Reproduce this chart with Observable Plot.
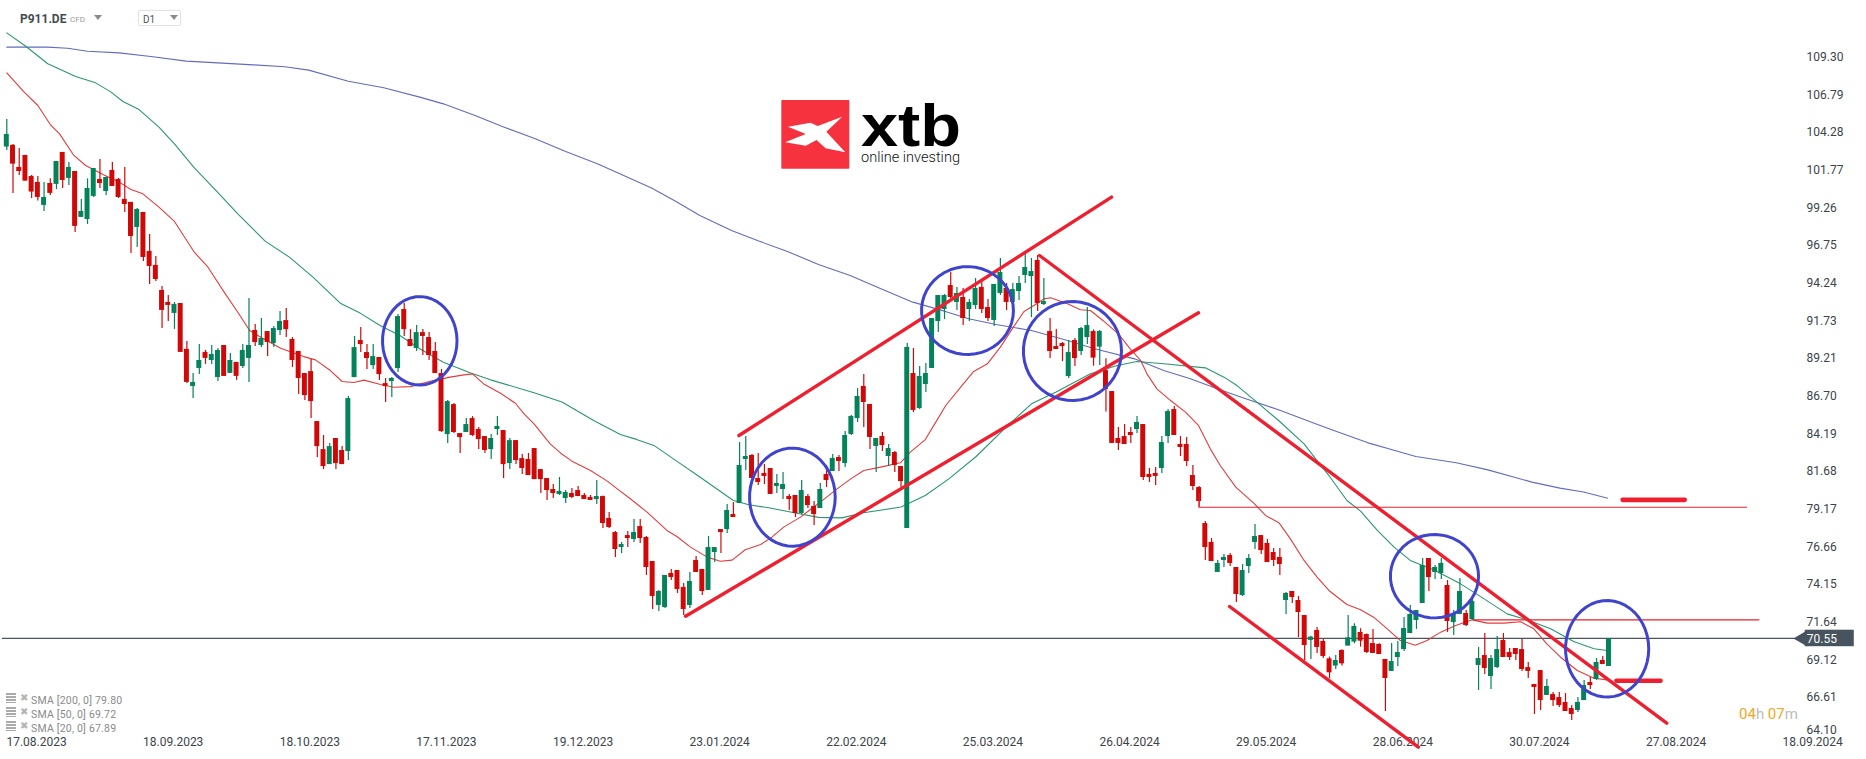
<!DOCTYPE html>
<html>
<head>
<meta charset="utf-8">
<script src="https://cdn.jsdelivr.net/npm/d3@7"></script>
<script src="https://cdn.jsdelivr.net/npm/@observablehq/plot@0.6"></script>
<style>
html,body{margin:0;padding:0;background:#fff;}
#wrap{position:relative;width:1866px;height:759px;overflow:hidden;font-family:Roboto,sans-serif;background:#fff;}
#wrap svg{display:block;}
.ov{position:absolute;white-space:nowrap;}
.ic{position:absolute;left:6px;width:10px;height:10px;background:repeating-linear-gradient(#aaa 0 2px,#fff 2px 3px);}
.xx{position:absolute;left:20px;font-size:10px;color:#b4b4b4;font-family:"DejaVu Sans";font-weight:bold;line-height:12px;}
.tri{position:absolute;width:0;height:0;border-left:4px solid transparent;border-right:4px solid transparent;border-top:5px solid #8a8a8a;}
</style>
</head>
<body>
<div id="wrap"></div>
<script>
const direction = "GRRRRRGRGR"+"GRGGGRGRRR"+"RGRRRRRGRR"+"GGRGGRGRGG"+"RGRGGRRRRR"+"RRGRRGGRRG"+"RRGGRRGRRR"+"RGRRGRRRGG"+"RGRRRRRRRG"+"GRRRRGRRRG"+
"RGRRRGGRRR"+"GRRGGRGRGG"+"RRRRGGRRGR"+"RGRGRGGGRR"+"GRGRRGRGGG"+"GGRGRGGRRG"+"GRGGGGRGRR"+"RGRGGRGRRR"+"RRGRRRGGRR"+"RRRRRGGRRG"+
"GGRRRRGRRR"+"GRRRGRGGRR"+"RRRGGGGGGR"+"GGRGGRGGRG"+"GRRRRRRRGR"+"RRRGGRGRG";
const high = [105.15,103.48,103.22,102.75,101.42,101.35,100.95,101.19,102.35,102.95,
102.28,101.68,99.82,101.19,101.88,102.48,101.31,102.28,101.22,101.95,
99.62,99.22,98.95,97.48,96.02,94.02,93.42,92.95,92.88,90.35,
88.22,90.15,89.75,90.08,89.88,90.08,89.55,88.95,90.15,93.22,
91.48,91.88,91.01,91.34,92.34,92.54,90.61,89.68,88.21,89.14,
85.01,84.08,83.54,83.88,83.34,86.68,90.68,91.28,90.14,90.14,
89.28,87.88,87.94,92.14,92.88,91.14,91.41,91.14,90.94,90.28,
88.48,86.41,86.21,84.21,85.21,85.34,84.61,84.01,84.14,85.34,
84.41,83.88,83.74,82.81,82.88,83.21,81.81,81.21,80.81,81.28,
80.41,80.55,80.68,80.21,80.08,81.08,80.05,78.95,77.68,76.95,
77.68,78.48,78.48,77.35,75.68,73.75,74.75,75.15,75.08,74.21,
74.95,76.01,75.15,77.35,76.61,77.81,79.48,79.61,83.61,84.01,
82.81,82.88,82.15,81.88,81.48,81.61,80.15,80.08,81.08,80.15,
79.68,80.88,82.08,82.81,82.75,84.35,85.41,87.21,88.15,86.15,
83.88,84.28,83.48,83.01,82.01,90.21,89.88,88.68,88.88,91.88,
93.41,93.48,94.95,93.95,93.88,93.15,94.55,94.35,93.15,94.15,
95.88,94.21,94.21,94.68,96.15,95.88,96.08,94.55,91.88,91.15,
90.28,90.41,90.55,91.28,92.61,91.12,91.08,89.19,87.01,84.61,
84.81,84.61,85.35,84.81,81.88,81.95,84.01,85.81,86.01,84.01,
83.95,82.08,80.68,78.35,77.21,75.75,76.15,76.21,75.28,75.48,
76.15,78.15,77.41,77.15,76.55,76.55,73.61,73.68,73.35,72.08,
70.7,71.28,70.48,69.31,69.42,69.79,72.08,71.53,71.2,70.85,
71.15,70.2,69.15,70.21,70.35,71.95,72.75,72.41,75.88,75.88,
75.41,75.88,74.41,72.41,74.55,72.41,73.15,69.95,70.88,69.41,
70.68,70.88,69.88,69.88,70.48,68.95,67.48,68.41,67.81,66.95,
66.95,66.88,66.08,66.61,67.75,67.95,69.21,69.35,70.55];
const bodyTop = [104.15,103.42,101.95,102.75,101.35,100.95,99.95,100.88,102.35,102.95,
101.95,101.68,99.02,100.55,101.88,101.15,101.28,101.75,101.15,99.82,
99.62,99.15,98.95,96.35,95.42,93.75,92.95,92.82,92.88,89.82,
87.62,89.08,89.62,89.48,89.75,90.08,89.08,88.95,89.75,90.08,
91.08,90.54,91.01,91.21,91.68,91.74,90.48,89.68,88.21,88.34,
85.01,83.14,83.34,83.88,83.08,86.54,89.94,90.41,89.61,89.34,
89.28,87.54,87.88,92.01,92.48,90.48,90.94,90.94,90.61,89.68,
88.21,86.34,86.14,84.21,84.81,85.21,84.48,84.01,83.88,84.68,
84.41,83.74,83.74,82.54,82.48,83.21,81.81,81.21,80.48,80.35,
80.28,80.21,80.41,80.08,79.95,80.01,80.01,78.55,77.61,76.81,
77.41,77.61,78.01,77.28,75.68,73.68,74.75,74.88,75.08,73.95,
74.35,75.75,75.15,76.61,76.61,77.81,79.08,78.81,82.08,82.68,
82.75,81.21,81.55,81.88,80.88,80.81,80.01,80.08,80.41,80.01,
79.35,80.48,81.48,82.55,82.61,84.08,85.35,86.68,87.35,86.15,
83.88,84.01,83.21,82.95,82.01,89.95,88.21,88.01,88.21,91.88,
93.41,93.41,94.08,93.55,93.28,92.95,93.88,93.95,92.61,94.15,
94.95,93.88,93.81,94.21,95.28,95.01,95.75,93.01,91.01,90.01,
90.21,89.61,90.41,91.21,91.41,91.01,91.01,88.41,87.01,83.88,
84.01,84.28,84.95,84.81,81.48,81.55,83.61,85.68,85.81,83.48,
83.48,81.41,80.61,78.21,76.95,75.55,75.95,76.08,75.28,75.08,
75.88,77.35,77.41,76.88,76.28,75.95,73.55,73.68,73.08,72.08,
70.64,71.08,70.35,69.19,69.08,69.75,70.59,71.35,70.95,70.81,
70.21,70.15,69.15,69.01,69.61,71.21,72.15,72.41,75.41,75.88,
75.28,75.55,74.08,72.15,73.68,72.21,73.01,69.21,69.41,69.21,
69.81,70.41,69.61,69.88,69.81,68.61,67.48,68.41,67.35,66.81,
66.61,66.28,65.88,66.28,67.41,67.61,68.95,69.08,70.55];
const bodyBottom = [103.31,102.17,101.68,101.04,100.31,99.95,99.42,100.22,100.82,101.08,
101.22,98.02,98.62,98.48,100.02,100.88,100.35,100.68,99.95,99.48,
97.35,97.95,95.95,95.35,94.48,92.42,92.75,92.22,89.62,87.62,
87.35,88.55,89.22,89.08,87.95,88.02,88.22,88.02,88.68,89.22,
90.28,90.08,90.28,90.21,91.08,91.14,89.08,87.88,86.74,86.34,
83.34,82.01,82.14,82.21,82.14,83.01,87.94,90.14,89.21,88.74,
88.14,87.34,87.68,88.54,91.14,90.01,89.88,90.68,89.41,88.21,
84.34,84.14,84.28,83.94,84.28,84.08,83.81,83.08,83.14,84.48,
82.14,82.21,82.41,81.88,81.41,81.14,81.14,80.41,80.21,80.15,
79.88,79.95,80.01,79.81,79.75,79.81,78.21,77.95,76.48,76.61,
77.21,77.15,77.21,75.28,73.35,72.75,72.61,74.61,73.81,72.48,
72.75,74.95,73.68,73.75,76.28,77.61,77.81,78.61,79.55,82.48,
81.21,80.95,81.35,80.15,80.68,80.48,79.81,78.88,78.88,79.41,
78.81,79.21,81.08,81.68,82.35,82.21,84.15,85.21,86.28,83.95,
83.35,83.41,82.68,82.08,81.01,77.88,85.75,85.88,87.48,88.55,
91.68,92.48,93.28,92.95,91.88,92.48,92.75,92.48,91.88,91.75,
93.55,92.95,92.95,93.68,94.75,94.68,92.88,92.81,89.68,89.81,
90.01,88.01,89.21,89.68,90.61,89.24,89.97,87.15,83.55,83.55,
83.48,84.08,84.48,81.28,81.28,81.35,81.88,84.01,84.08,83.28,
82.35,80.68,79.68,76.61,75.68,74.95,75.75,75.55,73.48,73.41,
75.35,76.95,76.41,75.61,75.75,75.48,73.08,73.28,72.28,70.08,
70.42,69.95,69.35,68.26,68.71,68.86,70.04,70.31,70.37,69.61,
69.55,69.48,67.88,68.35,69.28,69.81,70.88,71.75,72.88,74.61,
74.95,74.88,71.68,71.61,72.15,71.41,71.81,68.75,68.55,68.01,
68.61,69.28,69.28,69.48,68.48,68.35,67.28,66.41,66.75,66.41,
66.08,65.68,65.48,65.75,66.41,67.41,67.81,68.81,68.68];
const low = [103.08,100.22,101.42,101.04,99.88,99.71,99.02,100.08,100.48,100.55,
100.75,97.62,98.62,98.15,99.95,100.55,100.08,100.68,99.88,98.95,
96.22,96.62,95.68,94.15,94.35,91.22,91.68,91.15,89.62,87.55,
86.55,88.15,88.82,88.82,87.68,88.02,88.22,87.75,88.55,87.62,
90.02,89.94,89.34,89.94,90.74,90.61,88.61,86.81,86.41,85.21,
82.61,81.81,82.14,81.81,82.14,82.41,87.94,89.61,88.48,88.48,
87.74,86.28,86.61,88.28,90.68,90.01,89.68,89.41,89.08,88.21,
84.28,83.54,84.21,82.88,84.28,84.01,83.14,82.88,82.48,84.08,
81.21,81.81,82.14,81.48,81.41,81.14,80.21,79.74,79.88,80.08,
79.55,79.88,80.01,79.81,79.75,79.48,77.88,77.88,75.95,76.21,
76.61,76.95,76.88,74.75,72.48,72.35,72.55,74.41,73.55,72.08,
72.55,74.95,73.41,73.75,75.61,76.21,77.55,78.61,79.55,81.75,
81.21,80.75,80.81,80.15,80.21,79.81,79.08,78.61,78.81,79.21,
78.08,79.21,80.61,81.68,81.68,81.95,84.08,84.95,84.61,83.15,
81.61,83.01,82.01,81.61,80.61,77.88,85.61,85.81,86.95,88.55,
90.95,91.81,93.08,92.41,91.41,91.68,92.48,92.21,91.68,91.35,
93.41,92.41,92.48,93.08,94.21,91.95,92.35,92.75,89.21,89.81,
89.01,87.88,88.68,89.41,90.15,88.7,88.74,85.64,83.55,83.08,
83.48,83.55,84.21,81.08,80.95,80.75,81.55,83.55,84.08,82.68,
82.01,80.41,79.28,75.75,75.68,74.95,75.28,75.35,72.95,73.35,
74.88,76.48,76.15,75.61,75.35,74.75,72.15,72.88,70.61,69.08,
69.15,69.55,69.21,67.86,68.48,68.71,70.04,70.19,69.97,69.55,
69.55,69.48,65.68,68.35,68.68,69.68,70.88,71.15,72.88,73.68,
74.48,74.48,70.95,70.75,72.15,71.35,71.75,67.08,68.15,67.15,
68.55,69.28,69.08,69.08,68.35,67.88,65.48,65.75,66.75,66.01,
65.95,65.68,65.08,65.61,66.41,67.15,67.75,68.81,68.68];

const sma200Index = [0,6.6,9.8,13,18.1,23.2,28.9,34,39.7,44.8,48.6,55,60.7,66.5,70.3,75.4,79.8,84.9,90,95.1,98.8,103.9,107.7,111.6,116.7,121.1,125.6,130.7,135.8,140.2,145.9,151,154.9,159.3,165,170.8,175.2,181.6,186.3,190.6,194.9,198.7,205.1,211.5,214.7,219.2,223.1,226.9,233.4,238.5,245.6,250.1,253.9,257.8];
const sma200Value = [109.97,109.97,109.90,109.70,109.59,109.35,109.04,108.92,108.79,108.66,108.44,107.70,107.26,106.64,106.19,105.41,104.68,103.90,103.01,102.19,101.52,100.57,99.70,98.75,97.75,97.04,96.37,95.48,94.75,93.97,92.97,92.37,91.86,91.48,91.08,90.41,89.86,89.19,88.41,87.86,87.19,86.64,85.75,84.75,84.26,83.59,83.13,82.68,82.26,81.79,80.97,80.57,80.31,79.90];
const sma50Index = [0,3.1,6.6,11.1,14.3,16.8,18.7,21.3,24.5,27,30.2,33.7,37.2,41.6,45.5,49.3,53.7,56.9,60.1,63.3,66.5,70.3,74.7,77.9,84.9,89.4,94.5,98.8,101.4,104.2,107.7,111.6,117,119.5,122.7,126.8,130.7,134.5,137.7,144,147.9,151.7,156.1,161.2,165,168.9,174.5,178.8,182,186.3,193,196,198.1,201.3,204.8,208.9,211,213.1,215.8,218,220.7,223.4,226,229.8,234.1,237.9,241.6,244.8,248.6,252.3,255.6,257.7];
const sma50Value = [110.92,110.01,108.86,108.01,107.59,106.97,106.35,105.81,104.64,103.52,101.92,100.41,98.86,97.04,95.97,94.64,92.9,92.24,91.41,90.75,89.86,88.97,88.24,87.79,86.93,86.31,85.08,84.15,83.82,83.42,82.42,81.31,79.75,79.46,79.26,78.93,78.62,78.59,78.91,79.31,80.08,81.19,82.68,84.75,86.19,86.97,88.19,88.75,89.01,88.86,88.59,87.97,87.41,86.3,85.08,83.52,82.41,81.3,79.75,79.04,77.75,76.64,75.75,75.12,74.19,73.19,72.19,71.79,71.19,70.35,69.86,69.75];
const sma20Index = [0,2.8,5,7,8.5,10.8,12.7,15.5,18.1,20,21.9,24.5,27,30.2,32.4,35,37.2,39.1,40.9,44.1,47.8,49.7,52.1,54,55.9,57.5,60.2,62.3,65,68.2,71.4,73.6,75,76.8,79.5,81.9,83.3,84.9,87.5,89.2,91,94,96.7,98.3,100.4,103.1,106.3,107.9,110.1,112.8,114.9,116.8,118.9,121.4,123.2,125.1,127.8,129.4,131,133.7,135.9,138,140.7,143.9,145.5,147.9,149.6,151.2,153.8,155.7,157.9,160,161.9,163.8,165.4,167,168.1,170.8,172.9,174.5,176.5,179,180.9,182.6,183.6,185.2,187.4,189.8,191.9,193.8,195.4,197.9,200.8,202.7,204.9,206.7,208.9,211,212.9,215.8,218,220.1,222.3,224.4,226.8,228.7,230.9,233.3,236,238.4,241.1,243.8,245.9,248,250.2,252.9,255.6,257.7];
const sma20Value = [108.26,106.97,106.08,104.81,104.19,102.75,102.08,101.48,100.97,100.48,100.19,99.3,98.35,96.3,95.3,93.64,92.3,91.08,90.63,89.9,89.34,89.12,88.41,87.68,87.61,87.77,87.48,87.3,87.34,87.7,87.97,88.12,88.19,87.52,86.9,86.23,85.52,84.85,83.52,82.9,82.37,81.75,81.04,80.52,79.86,78.97,77.75,77.35,76.64,75.97,75.7,75.77,76.46,76.81,77.3,77.97,78.64,79.15,79.64,80.52,81.19,81.75,81.97,82.26,82.97,83.81,84.97,86.08,87.41,88.35,88.86,89.97,91.19,92.35,92.75,93.19,93.26,92.86,92.46,92.41,91.75,90.86,89.86,89.08,88.19,87.19,86.41,85.64,84.75,83.19,82.08,80.64,79.57,78.75,78.24,77.19,75.75,74.64,73.75,72.81,72.46,71.97,71.19,70.41,70.1,70.41,70.97,71.41,71.79,71.57,71.57,71.66,71.19,70.19,69.3,68.41,67.9,67.79];

const yTicks = [109.30,106.79,104.28,101.77,99.26,96.75,94.24,91.73,89.21,86.70,84.19,81.68,79.17,76.66,74.15,71.64,69.12,66.61];
const yBottomTick = [64.10];
const xTickDates = ["17.08.2023","18.09.2023","18.10.2023","17.11.2023","19.12.2023","23.01.2024","22.02.2024","25.03.2024","26.04.2024","29.05.2024","28.06.2024","30.07.2024","27.08.2024","18.09.2024"];
const xTickIndex = [4.8,26.8,48.8,70.8,92.8,114.8,136.8,158.8,180.8,202.8,224.8,246.8,268.8,290.8];

const lastPrice = 70.55;
// trend channels: [index1, price1, index2, price2]
const trendChannels = [[109.3,72.03,191.9,92.26],[117.9,84.08,177.9,99.97],[166.3,96.08,267.3,64.9],[196.9,72.68,227.3,63.3]];
// thin resistance levels: [startIndex, endIndex, price]
const levels = [[192,280.3,79.3],[236.2,282.3,71.79]];
const levelStem = [[192,79.3,80.2]];
// short thick markers: [startIndex, endIndex, price]
const markers = [[260.2,270.2,79.79],[259.2,266.3,67.73]];
// highlighted zones: [centreIndex, centrePrice, radiusIndex, radiusPrice]
const zones = [[66.5,90.39,6.0,2.95],[126.5,79.97,6.9,3.27],[154.7,92.41,7.4,2.93],[171.6,89.71,7.9,3.3],[229.9,74.7,7.1,2.78],[257.7,69.86,6.7,3.22]];

const candles = high.map((h,i)=>({i,h,t:bodyTop[i],b:bodyBottom[i],l:low[i],up:direction[i]==="G"}));
const series = (ix,v)=>ix.map((x,k)=>({x,y:v[k]}));
const GREEN="#04825a",RED="#d00808",TREND="#ee2030",CIRC="#4044cc";
const zonePts = z=>d3.range(0,361,8).map(a=>({x:z[0]+z[2]*Math.cos(a*Math.PI/180),y:z[1]+z[3]*Math.sin(a*Math.PI/180)}));

const chart = Plot.plot({
  width:1866,height:759,marginTop:0,marginLeft:0,marginRight:60,marginBottom:25,
  style:{background:"#fff",fontFamily:"Roboto,sans-serif",overflow:"visible"},
  x:{type:"linear",domain:[0,300],range:[6.3,6.3+6.21*300],axis:null},
  y:{type:"linear",domain:[109.30,64.10],range:[56.7,734.7],axis:null},
  marks:[
    Plot.axisY({anchor:"right",ticks:yTicks,tickSize:0,tickPadding:0,label:null,tickFormat:d=>d.toFixed(2),fontSize:12,fill:"#3d4349"}),
    Plot.axisY({anchor:"right",ticks:yBottomTick,tickSize:0,tickPadding:0,label:null,tickFormat:d=>d.toFixed(2),fontSize:12,fill:"#3d4349",dy:-5}),
    Plot.axisX({anchor:"bottom",ticks:xTickIndex,tickSize:0,tickPadding:3,label:null,tickFormat:d=>xTickDates[xTickIndex.indexOf(d)],fontSize:12,fill:"#3d4349"}),
    Plot.ruleY([lastPrice],{x1:-0.7,x2:288,stroke:"#4a555f",strokeWidth:1.2}),
    Plot.line(series(sma200Index,sma200Value),{x:"x",y:"y",stroke:"#626cbf",strokeWidth:1.1}),
    Plot.line(series(sma50Index,sma50Value),{x:"x",y:"y",stroke:"#2b9670",strokeWidth:1.1}),
    Plot.line(series(sma20Index,sma20Value),{x:"x",y:"y",stroke:"#e23c3c",strokeWidth:1.1}),
    Plot.ruleX(candles,{x:"i",y1:"h",y2:"l",stroke:d=>d.up?GREEN:RED,strokeWidth:1.2}),
    Plot.rect(candles,{x1:d=>d.i-0.4,x2:d=>d.i+0.4,y1:"t",y2:"b",fill:d=>d.up?GREEN:RED}),
    Plot.ruleX(levelStem,{x:d=>d[0],y1:d=>d[1],y2:d=>d[2],stroke:"#e8202c",strokeWidth:1}),
    Plot.ruleY(levels,{x1:d=>d[0],x2:d=>d[1],y:d=>d[2],stroke:"#e8202c",strokeWidth:1.1}),
    ...trendChannels.map(t=>Plot.line([{x:t[0],y:t[1]},{x:t[2],y:t[3]}],{x:"x",y:"y",stroke:TREND,strokeWidth:3.4})),
    ...markers.map(m=>Plot.line([{x:m[0],y:m[2]},{x:m[1],y:m[2]}],{x:"x",y:"y",stroke:TREND,strokeWidth:4.6,strokeLinecap:"round"})),
    ...zones.map(z=>Plot.line(zonePts(z),{x:"x",y:"y",stroke:CIRC,strokeWidth:3})),
    Plot.dot([lastPrice],{x:289.2,y:d=>d,symbol:"triangle",r:6,rotate:-90,fill:"#47535e",stroke:"none"}),
    Plot.rect([lastPrice],{x1:289.6,x2:297.5,y1:d=>d+0.55,y2:d=>d-0.55,fill:"#47535e"}),
    Plot.text([lastPrice],{x:289.85,y:d=>d,dy:1,text:d=>d.toFixed(2),textAnchor:"start",fill:"#fff",fontSize:12})
  ]
});
const wrap=document.getElementById("wrap");
wrap.appendChild(chart);

const legendRows=["SMA [200, 0] 79.80","SMA [50, 0] 69.72","SMA [20, 0] 67.89"];
const overlay=`
<div class="ov" style="left:20px;top:12px;font-size:12px;font-weight:700;color:#444a50;">P911.DE</div>
<div class="ov" style="left:70px;top:15px;font-size:8px;color:#9a9a9a;">CFD</div>
<div class="tri" style="left:94px;top:15px;"></div>
<div class="ov" style="left:138px;top:10px;width:43px;height:16px;border:1px solid #e2e2e2;border-radius:2px;box-sizing:border-box;"></div>
<div class="ov" style="left:143px;top:14px;font-size:10px;color:#555;">D1</div>
<div class="tri" style="left:170px;top:15px;"></div>
<svg class="ov" style="left:0;top:0;" width="1866" height="759">
  <rect x="781.3" y="100" width="68" height="68.7" rx="1" fill="#f7323f"/>
  <polygon fill="#fff" points="788,126.7 810.5,122.7 817.7,126 842.2,116.7 826.3,131.7 845.3,152.3 825.6,148.3 816.5,140 805.8,145.7 785.2,142.3 805.8,134"/>
  <text x="861" y="146" font-family="'Liberation Sans',Arial,sans-serif" font-weight="700" font-size="60" textLength="100" lengthAdjust="spacingAndGlyphs" fill="#000">xtb</text>
  <text x="861" y="162" font-family="Roboto,sans-serif" font-weight="300" font-size="15" textLength="99" lengthAdjust="spacingAndGlyphs" fill="#111">online investing</text>
</svg>
${legendRows.map((t,i)=>`
<div class="ic" style="top:${693+14*i}px;"></div>
<div class="xx" style="top:${692+14*i}px;">✖</div>
<div class="ov" style="left:31px;top:${694+14*i}px;font-size:10.5px;color:#8a8a8a;letter-spacing:.2px;">${t}</div>`).join("")}
<div class="ov" style="left:1739px;top:705px;font-size:15px;color:#bdbdbd;"><span style="color:#f5a623">04</span>h <span style="color:#f5a623">07</span>m</div>
`;
wrap.insertAdjacentHTML("beforeend",overlay);
</script>
</body>
</html>
